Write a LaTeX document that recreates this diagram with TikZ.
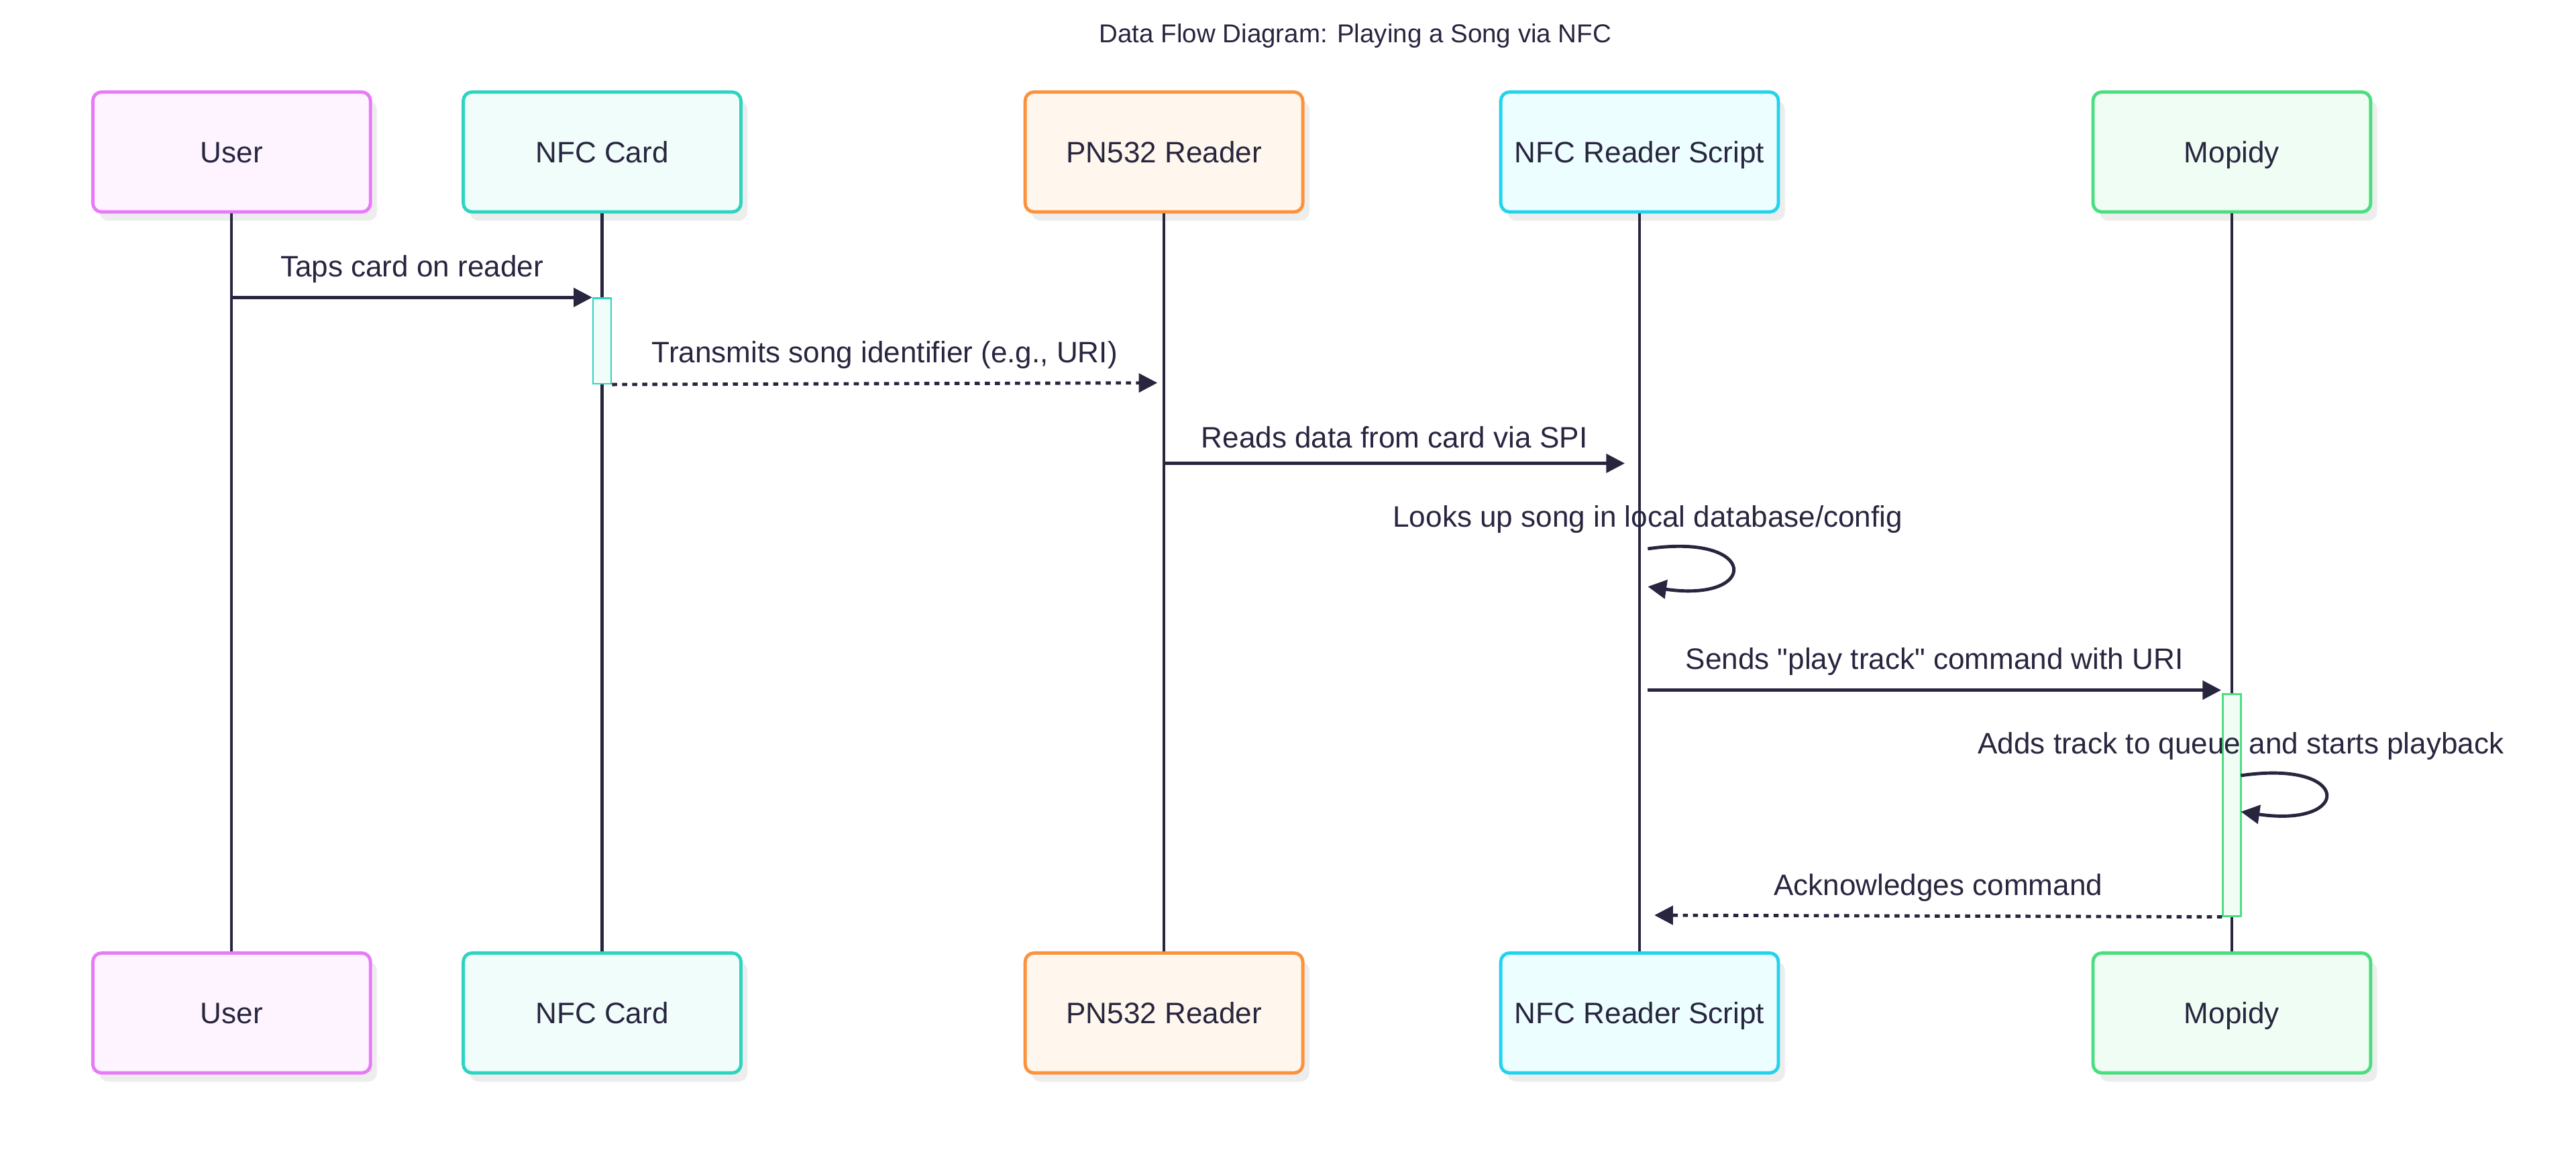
\documentclass[tikz,border=0pt]{standalone}
\usepackage{fontspec}
\setmainfont{Liberation Sans}
\newfontfamily\plainsans{Liberation Sans}
\usetikzlibrary{arrows.meta,shadows}
\definecolor{ink}{HTML}{28263F}
\definecolor{userD}{HTML}{E879F9}\definecolor{userF}{HTML}{FDF4FF}
\definecolor{cardD}{HTML}{2DD4BF}\definecolor{cardF}{HTML}{F0FDFA}
\definecolor{pnD}{HTML}{FB923C}\definecolor{pnF}{HTML}{FFF7ED}
\definecolor{scrD}{HTML}{22D3EE}\definecolor{scrF}{HTML}{ECFEFF}
\definecolor{mopD}{HTML}{4ADE80}\definecolor{mopF}{HTML}{F0FDF4}
\begin{document}
\begin{tikzpicture}[x=0.75pt,y=-0.75pt,
	actor/.style={rounded corners=4pt,line width=1.5pt,minimum width=126.75pt,minimum height=54.75pt,text height=9.7pt,text depth=0pt,text=ink,font=\fontsize{13.5}{16}\selectfont,drop shadow={shadow xshift=3pt,shadow yshift=-4pt,fill=black!7,opacity=1}},
	life/.style={ink,line width=1.3pt},
	actbox/.style={line width=0.75pt,inner sep=0pt,minimum width=8.25pt,anchor=north},
	msg/.style={ink,line width=1.5pt,-{Triangle[length=8.5pt,width=8.5pt]}},
	reply/.style={msg,dash pattern=on 2.3pt off 2.3pt},
	lbl/.style={text=ink,font=\plainsans\fontsize{13.5}{16}\selectfont}]
		\useasboundingbox (0,0) rectangle (1568,701.1);
		\node[text=ink,font=\fontsize{11.8}{14}\selectfont] (title) at (825,22) {Data Flow Diagram: Playing a Song via NFC};
		% actors, top and bottom
		\node[actor,draw=userD,fill=userF] (userT) at (141,92.5) {User};
		\node[actor,draw=cardD,fill=cardF] (cardT) at (366.5,92.5) {NFC Card};
		\node[actor,draw=pnD,fill=pnF] (pnT) at (708.5,92.5) {PN532 Reader};
		\node[actor,draw=scrD,fill=scrF] (scrT) at (998,92.5) {NFC Reader Script};
		\node[actor,draw=mopD,fill=mopF] (mopT) at (1358.5,92.5) {Mopidy};
		\node[actor,draw=userD,fill=userF] (userB) at (141,616.5) {User};
		\node[actor,draw=cardD,fill=cardF] (cardB) at (366.5,616.5) {NFC Card};
		\node[actor,draw=pnD,fill=pnF] (pnB) at (708.5,616.5) {PN532 Reader};
		\node[actor,draw=scrD,fill=scrF] (scrB) at (998,616.5) {NFC Reader Script};
		\node[actor,draw=mopD,fill=mopF] (mopB) at (1358.5,616.5) {Mopidy};
		\draw[life](userT)--(userB);
		\draw[life](cardT)--(cardB);
		\draw[life](pnT)--(pnB);
		\draw[life](scrT)--(scrB);
		\draw[life](mopT)--(mopB);
		% activations
		\node[actbox,draw=cardD,fill=cardF,minimum height=39pt] (cardAct) at (366.5,181) {};
		\node[actbox,draw=mopD,fill=mopF,minimum height=101.25pt] (mopAct) at (1358.5,422) {};
		% messages
		\coordinate (m1a) at (141,181);
		\coordinate (m2b) at (704.5,233);
		\coordinate (m3a) at (708.5,282);
		\coordinate (m3b) at (989,282);
		\coordinate (loop1a) at (1003,334);
		\coordinate (loop1b) at (1003,357);
		\coordinate (m5a) at (1003,420);
		\coordinate (m5b) at (1352,420);
		\coordinate (loop2a) at (1364,472);
		\coordinate (loop2b) at (1364,494);
		\coordinate (m7b) at (1007,557);
		\draw[msg](m1a)--(cardAct.north west)node[lbl,midway,yshift=13pt]{Taps card on reader};
		\draw[reply](cardAct.south east)--(m2b)node[lbl,midway,yshift=13pt]{Transmits song identifier (e.g., URI)};
		\draw[msg](m3a)--(m3b)node[lbl,midway,yshift=12pt]{Reads data from card via SPI};
		\node[lbl] (look) at (1003,316) {Looks up song in local database/config};
		\draw[msg](loop1a)..controls(1071,324)and(1071,367)..(loop1b);
		\draw[msg](m5a)--(m5b)node[lbl,midway,yshift=13pt]{Sends "play track" command with URI};
		\node[lbl] (adds) at (1364,454) {Adds track to queue and starts playback};
		\draw[msg](loop2a)..controls(1432,462)and(1432,504)..(loop2b);
		\draw[reply](mopAct.south west)--(m7b)node[lbl,midway,yshift=13pt]{Acknowledges command};
	    \end{tikzpicture}
\end{document}
